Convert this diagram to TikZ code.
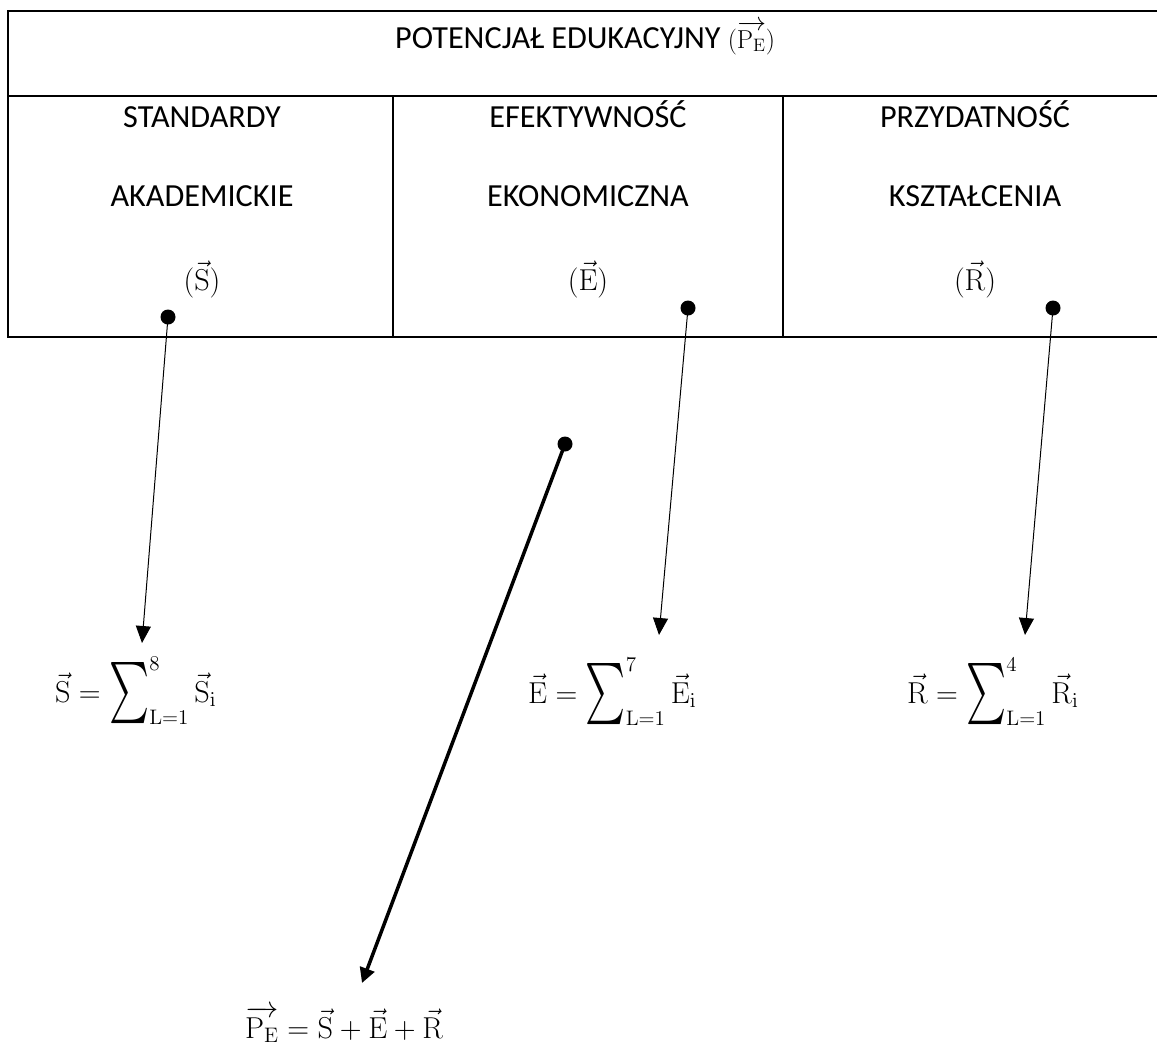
\documentclass[tikz,border=0pt]{standalone}
\usepackage{graphicx}
\usepackage{amsmath}
\usepackage[no-math]{fontspec}
\setmainfont{Carlito}
\usetikzlibrary{arrows.meta}
\newcommand{\bigsig}{\mathop{\raisebox{-3.4pt}{\resizebox*{22.9pt}{34.9pt}{$\sum$}}}\nolimits}
\newcommand{\vv}[1]{\vec{\mathrm{#1}}}
\newcommand{\M}[1]{\scalebox{1.75}{\fontsize{17.28}{20}\selectfont$#1$}}
\newcommand{\Mt}[1]{\scalebox{1.5}{\fontsize{17.28}{20}\selectfont$#1$}}
\begin{document}
\begin{tikzpicture}[x=1pt,y=-1pt,
  txt/.style={font=\fontsize{32.2}{38}\selectfont, inner sep=0pt},
  mth/.style={inner sep=0pt},
  dot/.style={circle, fill=black, minimum size=15pt, inner sep=0pt},
  thinarrow/.style={line width=1pt, -{Triangle[length=17pt,width=15pt]}},
  thickarrow/.style={line width=3.5pt, -{Triangle[length=15pt,width=15pt]}},
  outer/.style={line width=2pt},
  inner/.style={line width=1.2pt}]
\useasboundingbox (0,0) rectangle (1157,1042);
% table
\draw[outer] (7,11) -- (1170,11);
\draw[outer] (8,10) -- (8,338);
\draw[outer] (7,337) -- (1170,337);
\draw[line width=1.6pt] (8,96) -- (1170,96);
\draw[inner] (393,96) -- (393,337);
\draw[inner] (783,96) -- (783,337);
% texts
\node[txt, anchor=base west] (title) at (395,48) {POTENCJAŁ EDUKACYJNY \Mt{(\overrightarrow{\mathrm{P}_{\mathrm{E}}})}};
\node[txt, anchor=base] (s1) at (202,127) {STANDARDY};
\node[txt, anchor=base] (s2) at (202,206) {AKADEMICKIE};
\node[mth, anchor=base] (s3) at (202,290) {\M{(\vv{S})}};
\node[txt, anchor=base] (e1) at (588,127) {EFEKTYWNOŚĆ};
\node[txt, anchor=base] (e2) at (588,206) {EKONOMICZNA};
\node[mth, anchor=base] (e3) at (588,290) {\M{(\vv{E})}};
\node[txt, anchor=base] (r1) at (975,127) {PRZYDATNOŚĆ};
\node[txt, anchor=base] (r2) at (975,206) {KSZTAŁCENIA};
\node[mth, anchor=base] (r3) at (975,290) {\M{(\vv{R})}};
% dots
\node[dot] (dS) at (168,317) {};
\node[dot] (dE) at (688,308) {};
\node[dot] (dR) at (1053,308) {};
\node[dot] (dP) at (565,444) {};
% arrow tips
\coordinate (tS) at (142,643);
\coordinate (tE) at (659,635);
\coordinate (tR) at (1025,635);
\coordinate (tP) at (362,983);
\draw[thinarrow] (dS.center) -- (tS);
\draw[thinarrow] (dE.center) -- (tE);
\draw[thinarrow] (dR.center) -- (tR);
\draw[thickarrow] (dP.center) -- (tP);
% formulas
\node[mth, anchor=base west] (fS) at (55,702) {\M{\vv{S} = \bigsig^{8}_{\mathrm{L}=1}\vv{S}_{\mathrm{i}}}};
\node[mth, anchor=base west] (fE) at (528,703) {\M{\vv{E} = \bigsig^{7}_{\mathrm{L}=1}\vv{E}_{\mathrm{i}}}};
\node[mth, anchor=base west] (fR) at (907,703) {\M{\vv{R} = \bigsig^{4}_{\mathrm{L}=1}\vv{R}_{\mathrm{i}}}};
\node[mth, anchor=base west] (fP) at (245,1038) {\M{\overrightarrow{\mathrm{P}_{\mathrm{E}}} = \vv{S} + \vv{E} + \vv{R}}};
\end{tikzpicture}
\end{document}
